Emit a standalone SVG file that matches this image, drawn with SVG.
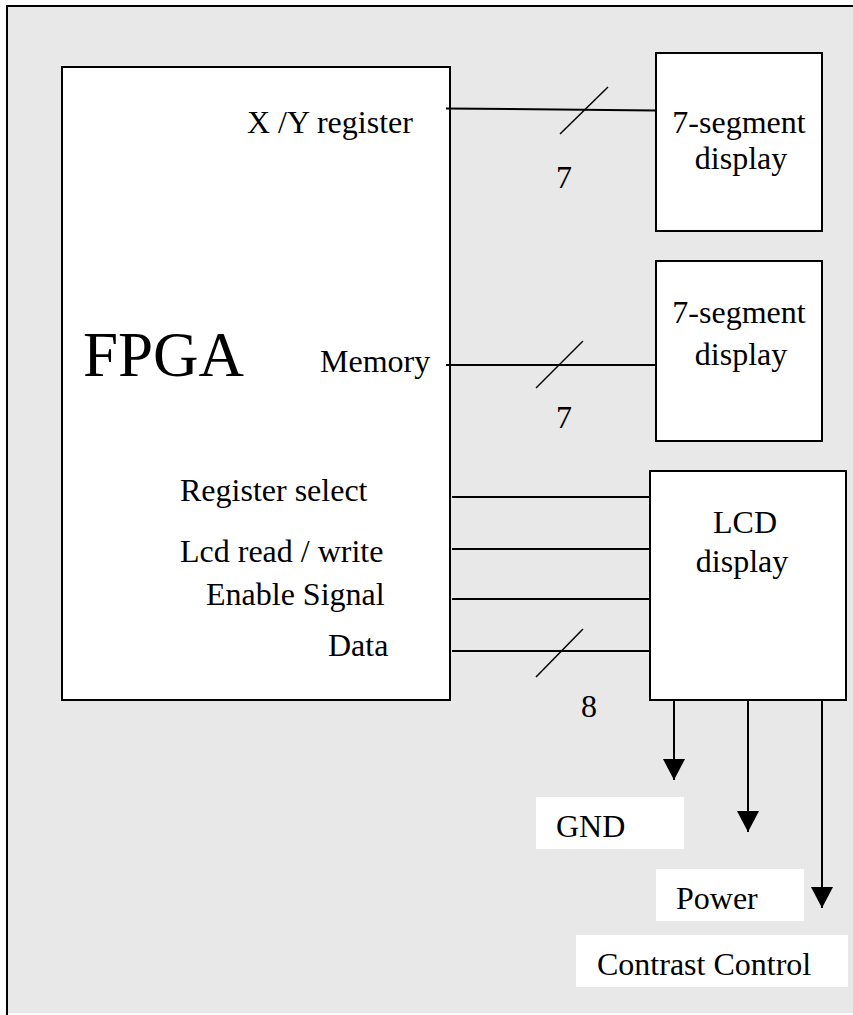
<svg xmlns="http://www.w3.org/2000/svg" width="853" height="1015" viewBox="0 0 853 1015">
  <style>
    .box { fill: #ffffff; stroke: #000000; stroke-width: 2; }
    .wire { stroke: #000000; stroke-width: 2; fill: none; }
    .slash { stroke: #000000; stroke-width: 1.5; fill: none; }
    .lbl { font-family: "Liberation Serif", "Times New Roman", serif; font-size: 32px; fill: #000000; }
    .big { font-family: "Liberation Serif", "Times New Roman", serif; font-size: 63px; fill: #000000; }
    .mid { text-anchor: middle; }
    .tag { fill: #ffffff; stroke: none; }
  </style>
  <defs>
    <marker id="arrow" markerWidth="22" markerHeight="22" refX="21" refY="11" orient="auto" markerUnits="userSpaceOnUse">
      <path d="M0,0 L21,11 L0,22 Z" fill="#000000"/>
    </marker>
  </defs>

  <!-- page background and frame -->
  <rect x="0" y="0" width="853" height="1015" fill="#ffffff"/>
  <rect x="7" y="6" width="846" height="1007" fill="#e8e8e8"/>
  <line x1="6" y1="6" x2="853" y2="6" stroke="#000" stroke-width="2"/>
  <line x1="7" y1="5" x2="7" y2="1015" stroke="#000" stroke-width="2"/>

  <!-- FPGA block -->
  <g id="fpga">
    <rect class="box" x="62" y="67" width="388" height="633"/>
    <text class="big" x="83" y="376">FPGA</text>
    <text class="lbl" x="247" y="133">X /Y register</text>
    <text class="lbl" x="320" y="372">Memory</text>
    <text class="lbl" x="180" y="501">Register select</text>
    <text class="lbl" x="180" y="562">Lcd read / write</text>
    <text class="lbl" x="206" y="605">Enable Signal</text>
    <text class="lbl" x="328" y="656">Data</text>
  </g>

  <!-- 7-segment display 1 -->
  <g id="seg1">
    <rect class="box" x="656" y="53" width="166" height="178"/>
    <text class="lbl mid" x="739" y="133">7-segment</text>
    <text class="lbl mid" x="741" y="169">display</text>
  </g>

  <!-- 7-segment display 2 -->
  <g id="seg2">
    <rect class="box" x="656" y="261" width="166" height="180"/>
    <text class="lbl mid" x="739" y="323">7-segment</text>
    <text class="lbl mid" x="741" y="365">display</text>
  </g>

  <!-- LCD display -->
  <g id="lcd">
    <rect class="box" x="650" y="471" width="196" height="229"/>
    <text class="lbl mid" x="745" y="533">LCD</text>
    <text class="lbl mid" x="742" y="572">display</text>
  </g>

  <!-- supply / control labels -->
  <g id="gnd">
    <rect class="tag" x="536" y="797" width="148" height="52"/>
    <text class="lbl" x="556" y="837">GND</text>
  </g>
  <g id="power">
    <rect class="tag" x="656" y="869" width="148" height="52"/>
    <text class="lbl" x="676" y="909">Power</text>
  </g>
  <g id="contrast">
    <rect class="tag" x="576" y="935" width="272" height="52"/>
    <text class="lbl" x="597" y="975">Contrast Control</text>
  </g>

  <!-- connectors -->
  <g id="connectors">
    <!-- X/Y register bus, 7 bits -->
    <line class="wire" x1="446" y1="108.5" x2="656" y2="110.5"/>
    <line class="slash" x1="560" y1="134" x2="608" y2="87"/>
    <text class="lbl" x="556" y="188">7</text>

    <!-- Memory bus, 7 bits -->
    <line class="wire" x1="446" y1="365" x2="656" y2="365"/>
    <line class="slash" x1="536" y1="388" x2="583" y2="341"/>
    <text class="lbl" x="556" y="428">7</text>

    <!-- LCD control lines -->
    <line class="wire" x1="452" y1="497" x2="650" y2="497"/>
    <line class="wire" x1="452" y1="549" x2="650" y2="549"/>
    <line class="wire" x1="452" y1="599" x2="650" y2="599"/>
    <line class="wire" x1="452" y1="651" x2="650" y2="651"/>
    <line class="slash" x1="536" y1="677" x2="583" y2="629"/>
    <text class="lbl" x="581" y="717">8</text>

    <!-- supply arrows -->
    <line class="wire" x1="674" y1="701" x2="674" y2="780" marker-end="url(#arrow)"/>
    <line class="wire" x1="748" y1="701" x2="748" y2="832" marker-end="url(#arrow)"/>
    <line class="wire" x1="822" y1="701" x2="822" y2="908" marker-end="url(#arrow)"/>
  </g>
</svg>
